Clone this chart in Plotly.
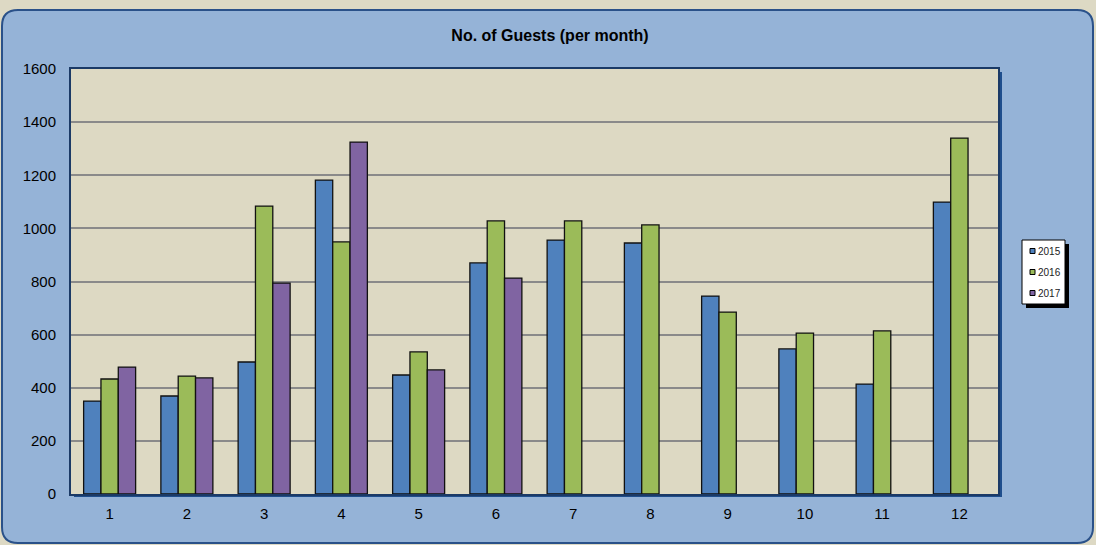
import plotly.graph_objects as go

months = [str(m) for m in range(1, 13)]
guests_2015 = [350, 369, 497, 1182, 448, 870, 956, 945, 745, 546, 414, 1099]
guests_2016 = [433, 444, 1084, 949, 535, 1028, 1028, 1013, 685, 606, 614, 1340]
guests_2017 = [478, 437, 794, 1325, 467, 813, None, None, None, None, None, None]
series_names = ["2015", "2016", "2017"]
series_colors = ["#4F81BD", "#9BBB59", "#8064A2"]

W, H = 1096, 545
L, R, T, B = 71, 998, 69, 494  # plot area in pixels


def X(px):
    return (px - L) / (R - L)


def Y(py):
    return (B - py) / (B - T)


fig = go.Figure()
for name, vals, col in zip(series_names, [guests_2015, guests_2016, guests_2017], series_colors):
    fig.add_trace(go.Bar(
        x=months, y=vals, name=name,
        marker=dict(color=col, line=dict(color="#111111", width=1.3)),
        showlegend=False,
    ))

shapes = []
# rounded blue panel
x0, x1, y0, y1, r = 2, 1093, 10, 543, 16
path = (
    f"M {X(x0+r)},{Y(y0)} L {X(x1-r)},{Y(y0)} Q {X(x1)},{Y(y0)} {X(x1)},{Y(y0+r)} "
    f"L {X(x1)},{Y(y1-r)} Q {X(x1)},{Y(y1)} {X(x1-r)},{Y(y1)} "
    f"L {X(x0+r)},{Y(y1)} Q {X(x0)},{Y(y1)} {X(x0)},{Y(y1-r)} "
    f"L {X(x0)},{Y(y0+r)} Q {X(x0)},{Y(y0)} {X(x0+r)},{Y(y0)} Z"
)
shapes.append(dict(type="path", xref="paper", yref="paper", path=path,
                   fillcolor="#95B3D7", line=dict(color="#2A5189", width=2), layer="below"))
# plot area shadow and background
shapes.append(dict(type="rect", xref="paper", yref="paper", x0=X(L + 3), x1=X(R + 4), y0=Y(B + 3), y1=Y(T + 3),
                   fillcolor="#1F4E8C", line=dict(width=0), layer="below"))
shapes.append(dict(type="rect", xref="paper", yref="paper", x0=X(L), x1=X(R), y0=Y(B), y1=Y(T),
                   fillcolor="#DDD9C3", line=dict(width=0), layer="below"))
# legend box
lx0, lx1, ly0, ly1 = 1022, 1065, 240, 304
shapes.append(dict(type="rect", xref="paper", yref="paper", x0=X(lx0 + 4), x1=X(lx1 + 4), y0=Y(ly1 + 4), y1=Y(ly0 + 4),
                   fillcolor="#000000", line=dict(width=0), layer="below"))
shapes.append(dict(type="rect", xref="paper", yref="paper", x0=X(lx0), x1=X(lx1), y0=Y(ly1), y1=Y(ly0),
                   fillcolor="#FFFFFF", line=dict(color="#000000", width=1), layer="below"))

annotations = []
for i, (name, col) in enumerate(zip(series_names, series_colors)):
    cy = 251 + i * 21
    shapes.append(dict(type="rect", xref="paper", yref="paper", x0=X(1030), x1=X(1035), y0=Y(cy + 2.5), y1=Y(cy - 2.5),
                       fillcolor=col, line=dict(color="#000000", width=1), layer="below"))
    annotations.append(dict(xref="paper", yref="paper", x=X(1035.5), y=Y(cy), text=name, showarrow=False,
                            xanchor="left", yanchor="middle", font=dict(family="Arial, Liberation Sans", size=10, color="#222222")))

fig.update_layout(
    width=W, height=H,
    margin=dict(l=L, r=W - R, t=T, b=H - B),
    paper_bgcolor="#DDD9C4",
    plot_bgcolor="rgba(0,0,0,0)",
    barmode="group", bargap=0.327, bargroupgap=0,
    title=dict(text="<b>No. of Guests (per month)</b>", x=550 / W, xanchor="center",
               y=1 - 35 / H, yanchor="middle", yref="container",
               font=dict(family="Arial, Liberation Sans", size=16, color="#000000")),
    font=dict(family="Arial, Liberation Sans", size=15, color="#000000"),
    shapes=shapes, annotations=annotations,
    xaxis=dict(showgrid=False, showline=True, mirror=True, linecolor="#1B3A66", linewidth=2,
               ticks="outside", ticklen=5, tickcolor="rgba(0,0,0,0)", zeroline=False,
               tickfont=dict(size=15)),
    yaxis=dict(range=[0, 1600], dtick=200, showgrid=True, gridcolor="#8A8A8A", gridwidth=1.5,
               showline=True, mirror=True, linecolor="#1B3A66", linewidth=2, zeroline=False,
               ticks="outside", ticklen=10, tickcolor="rgba(0,0,0,0)", tickfont=dict(size=15)),
)

fig.write_html("out.html", config={"displayModeBar": False},
               post_script="document.body.style.margin='0';document.body.style.background='#DDD9C4';")
